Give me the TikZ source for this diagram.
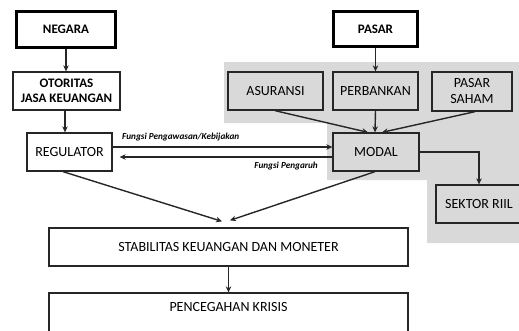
\documentclass[tikz,border=0pt]{standalone}
\usepackage{fontspec}
\setmainfont{Carlito}
\usetikzlibrary{arrows.meta}
\definecolor{bggray}{HTML}{D9D9D9}
\tikzset{
  box/.style={draw=black!85, line width=1.3pt, inner sep=0pt, align=center, font=\fontsize{14}{16}\selectfont},
  bigbox/.style={draw=black, line width=3pt, inner sep=0pt, align=center, font=\bfseries\fontsize{13}{15}\selectfont},
  boldbox/.style={box, font=\bfseries\fontsize{13}{15.5}\selectfont},
  arr/.style={-{Stealth[length=6pt,width=5.5pt]}, line width=1.4pt, black!85},
  lbl/.style={font=\bfseries\itshape\fontsize{9.2}{11}\selectfont, inner sep=0pt}
}
\begin{document}
\begin{tikzpicture}[x=1pt,y=-1pt]
\useasboundingbox (0,0) rectangle (519,330);
\clip (0,0) rectangle (519,330);
\fill[bggray] (224,62) -- (519,62) -- (519,243) -- (427,243) -- (427,180) -- (327,180) -- (327,123) -- (224,123) -- cycle;
\node[bigbox, minimum width=99pt, minimum height=36pt] (negara) at (66,29.5) {NEGARA};
\node[bigbox, minimum width=84pt, minimum height=35pt] (pasar) at (375.5,29) {PASAR};
\node[boldbox, minimum width=107pt, minimum height=38pt] (otoritas) at (66.5,91) {OTORITAS\\JASA KEUANGAN};
\node[box, minimum width=85pt, minimum height=38pt] (regulator) at (69.5,152) {REGULATOR};
\node[box, minimum width=95pt, minimum height=38pt] (asuransi) at (275.5,91) {ASURANSI};
\node[box, minimum width=85pt, minimum height=38pt] (perbankan) at (375.5,91) {PERBANKAN};
\node[box, minimum width=80pt, minimum height=39pt] (saham) at (472,91.5) {PASAR\\SAHAM};
\node[box, minimum width=86pt, minimum height=38pt] (modal) at (376,152) {MODAL};
\node[box, minimum width=86pt, minimum height=38pt] (sektor) at (479,204) {SEKTOR RIIL};
\node[box, minimum width=359pt, minimum height=38pt] (stabilitas) at (228.5,247) {STABILITAS KEUANGAN DAN MONETER};
\node[box, minimum width=359pt, minimum height=40pt] (pencegahan) at (228.5,313) {};
\node[font=\fontsize{14}{16}\selectfont, inner sep=0pt] (pctext) at (228.5,307) {PENCEGAHAN KRISIS};
\node[lbl, anchor=west] (l1) at (122,137) {Fungsi Pengawasan/Kebijakan};
\node[lbl, anchor=east] (l2) at (318,166) {Fungsi Pengaruh};
\draw[arr] (negara.south) -- (negara.south |- otoritas.north);
\draw[arr] (otoritas.south -| 65,0) -- (regulator.north -| 65,0);
\draw[arr] (pasar.south) -- (perbankan.north);
\draw[arr] (perbankan.south) -- ([xshift=-1pt]modal.north);
\draw[arr] ([xshift=-0.5pt]asuransi.south) -- ([xshift=-8pt]modal.north);
\draw[arr] ([xshift=3pt]saham.south) -- ([xshift=6pt]modal.north);
\draw[arr] (modal.east) -| (sektor.north);
\draw[arr] ([yshift=5pt]regulator.east) -- ([yshift=5pt]modal.west);
\draw[arr] ([yshift=-5pt]modal.west) -- ([yshift=-5pt,xshift=7pt]regulator.east);
\draw[arr] ([xshift=-6.5pt]regulator.south) -- ([xshift=-6.5pt,yshift=6pt]stabilitas.north);
\draw[arr] ([xshift=-1pt]modal.south) -- ([xshift=1.5pt,yshift=7pt]stabilitas.north);
\draw[arr] (stabilitas.south) -- (pencegahan.north);
\end{tikzpicture}
\end{document}
